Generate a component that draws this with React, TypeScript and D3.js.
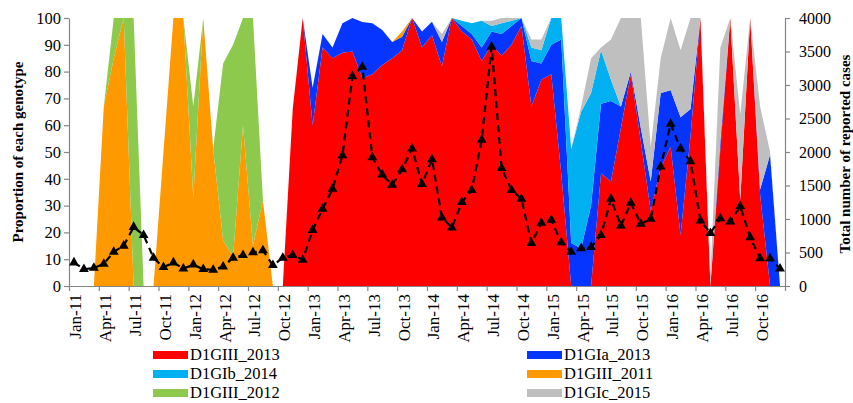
import React, { useEffect, useRef } from 'react';
import * as d3 from 'd3';

// month categories Jan-11 .. Dec-16
const months: string[] = d3.timeMonth
  .range(new Date(2011, 0, 1), new Date(2017, 0, 1))
  .map(d => d3.timeFormat('%b-%y')(d));

const xTickLabels = [
  'Jan-11', 'Apr-11', 'Jul-11', 'Oct-11', 'Jan-12', 'Apr-12', 'Jul-12', 'Oct-12',
  'Jan-13', 'Apr-13', 'Jul-13', 'Oct-13', 'Jan-14', 'Apr-14', 'Jul-14', 'Oct-14',
  'Jan-15', 'Apr-15', 'Jul-15', 'Oct-15', 'Jan-16', 'Apr-16', 'Jul-16', 'Oct-16',
];

// proportion of each genotype (%), one value per month
const d1giii2013 = [
  0, 0, 0, 0, 0, 0, 0, 0, 0, 0, 0, 0,
  0, 0, 0, 0, 0, 0, 0, 0, 0, 0, 66, 100,
  60, 89, 85, 87, 87.5, 77.5, 79, 82.5, 85, 88, 100, 89,
  93.6, 82, 100, 95, 92, 84, 90, 86, 90, 97, 67, 77,
  79, 42, 0, 0, 0, 42, 39, 59, 79, 54, 28, 44,
  52, 19, 56, 100, 0, 51, 100, 32, 100, 34, 0, 0,
];
const d1gia2013 = [
  0, 0, 0, 0, 0, 0, 0, 0, 0, 0, 0, 0,
  0, 0, 0, 0, 0, 0, 0, 0, 0, 0, 0, 0,
  14, 5, 4, 11, 12.5, 21, 19, 13, 6, 5, 0, 6,
  5, 9, 0, 2, 2, 5, 5, 8, 7, 3, 17, 6,
  11, 50, 16, 14, 30, 26, 30, 8, 1, 5, 11, 28,
  21, 44, 10, 0, 0, 3, 0, 0, 0, 2, 49, 0,
];
const d1gib2014 = [
  0, 0, 0, 0, 0, 0, 0, 0, 0, 0, 0, 0,
  0, 0, 0, 0, 0, 0, 0, 0, 0, 0, 0, 0,
  0, 0, 0, 0, 0, 0, 0, 0, 0, 0, 0, 0,
  0, 0, 0, 2, 4, 10, 2, 4, 2, 0, 5, 5,
  10, 8, 35, 51, 42, 20, 8, 0, 0, 0, 0, 0,
  0, 0, 0, 0, 0, 0, 0, 0, 0, 0, 0, 0,
];
const d1giii2011 = [
  0, 0, 0, 67, 85, 100, 0, 0, 0, 50, 100, 100,
  33, 100, 51, 17, 11, 60, 15, 32, 0, 0, 0, 0,
  0, 0, 0, 0, 0, 0, 0, 0, 0, 2, 0, 0,
  0, 0, 0, 0, 0, 0, 0, 0, 0, 0, 0, 0,
  0, 0, 0, 0, 0, 0, 0, 0, 0, 0, 0, 0,
  0, 0, 0, 0, 0, 0, 0, 0, 0, 0, 0, 0,
];
const d1giii2012 = [
  0, 0, 0, 0, 15, 0, 100, 0, 0, 0, 0, 0,
  34, 0, 0, 66, 79, 40, 85, 0, 0, 0, 0, 0,
  0, 0, 0, 0, 0, 0, 0, 0, 0, 0, 0, 0,
  0, 0, 0, 0, 0, 0, 0, 0, 0, 0, 0, 0,
  0, 0, 0, 0, 0, 0, 0, 0, 0, 0, 0, 0,
  0, 0, 0, 0, 0, 0, 0, 0, 0, 0, 0, 0,
];
const d1gic2015 = [
  0, 0, 0, 0, 0, 0, 0, 0, 0, 0, 0, 0,
  0, 0, 0, 0, 0, 0, 0, 0, 0, 0, 0, 0,
  0, 0, 0, 0, 0, 0, 0, 0, 0, 0, 0, 0,
  0, 3, 0, 0, 0, 0, 2, 2, 1, 0, 3, 4,
  0, 0, 0, 2, 13, 1, 15, 33, 20, 41, 13, 13,
  27, 25, 34, 0, 4, 35, 0, 32, 0, 31, 1, 0,
];

// total number of reported cases per month
const totalCases = [
  350, 250, 270, 330, 510, 600, 880, 760, 420, 280, 350, 260,
  320, 250, 240, 290, 420, 460, 500, 530, 310, 420, 460, 390,
  835, 1150, 1450, 1950, 3130, 3270, 1920, 1660, 1510, 1740, 2050, 1520,
  1890, 1020, 870, 1250, 1430, 2180, 3570, 1760, 1430, 1300, 640, 940,
  985, 650, 510, 560, 580, 760, 1300, 900, 1240, 925, 1000, 1780,
  2420, 2050, 1860, 975, 790, 1010, 960, 1190, 725, 410, 410, 260,
];

const seriesNames = ['D1GIII_2013', 'D1GIa_2013', 'D1GIb_2014', 'D1GIII_2011', 'D1GIII_2012', 'D1GIc_2015'];
const seriesValues = [d1giii2013, d1gia2013, d1gib2014, d1giii2011, d1giii2012, d1gic2015];
const seriesColors = ['#ff0000', '#0635ff', '#00b0f0', '#ff9900', '#8cc94c', '#bfbfbf'];
const legendLabels = ['D1GIII_2013', 'D1GIa_2013', 'D1GIb_2014', 'D1GIII_2011', 'D1GIII_2012', 'D1GIc_2015'];

const FONT = 'Liberation Serif, DejaVu Serif, serif';
const AXIS = '#868686';

const App: React.FC = () => {
  const svgRef = useRef<SVGSVGElement | null>(null);

  useEffect(() => {
    if (!svgRef.current) return;
    const svg = d3.select(svgRef.current);
    svg.selectAll('*').remove();

    const width = 853;
    const height = 403;
    const margin = { top: 18, right: 68, bottom: 117, left: 69 };
    const x0 = margin.left;
    const x1 = width - margin.right;
    const yTop = margin.top;
    const yBot = height - margin.bottom;

    const x = d3.scaleBand<string>().domain(months).range([x0, x1]).padding(0);
    const xc = (m: string) => (x(m) as number) + x.bandwidth() / 2;
    const xIdx = d3.scaleLinear().domain([0, months.length]).range([x0, x1]);

    const yLeft = d3.scaleLinear().domain([0, 100]).range([yBot, yTop]);
    const yRight = d3.scaleLinear().domain([0, 4000]).range([yBot, yTop]);

    // stacked table
    const table = months.map((m, i) => {
      const row: any = { month: m };
      seriesNames.forEach((k, s) => { row[k] = seriesValues[s][i]; });
      return row;
    });
    const stacked = d3.stack<any>().keys(seriesNames)(table);

    const area = d3.area<any>()
      .x(d => xc(d.data.month))
      .y0(d => yLeft(d[0]))
      .y1(d => yLeft(d[1]));

    svg.append('g')
      .selectAll('path')
      .data(stacked)
      .join('path')
      .attr('fill', (_, i) => seriesColors[i])
      .attr('d', area as any);

    // left axis
    const gl = svg.append('g')
      .attr('transform', `translate(${x0},0)`)
      .call(d3.axisLeft(yLeft).tickValues(d3.range(0, 101, 10)).tickSize(5).tickPadding(3).tickSizeOuter(0));
    gl.selectAll('text').attr('font-size', 16.5).attr('fill', '#000');

    // right axis
    const gr = svg.append('g')
      .attr('transform', `translate(${x1},0)`)
      .call(d3.axisRight(yRight).tickValues(d3.range(0, 4001, 500)).tickFormat(d3.format('d')).tickSize(5).tickPadding(9).tickSizeOuter(0));
    gr.selectAll('text').attr('font-size', 16).attr('fill', '#000');

    // bottom axis: ticks between categories every 3 months
    const gb = svg.append('g')
      .attr('transform', `translate(0,${yBot})`)
      .call(d3.axisBottom(xIdx).tickValues(d3.range(0, months.length + 1, 3)).tickSize(5).tickFormat(() => '').tickSizeOuter(0));

    [gl, gr, gb].forEach(g => {
      g.attr('font-family', FONT);
      g.select('.domain').attr('stroke', AXIS).attr('stroke-width', 1.2);
      g.selectAll('.tick line').attr('stroke', AXIS).attr('stroke-width', 1.2);
    });

    svg.append('g')
      .attr('font-family', FONT)
      .attr('font-size', 17)
      .selectAll('text')
      .data(xTickLabels)
      .join('text')
      .attr('transform', (_, i) => `translate(${xc(months[i * 3]) + 1.5},${yBot + 8}) rotate(-90)`)
      .attr('text-anchor', 'end')
      .attr('dy', '0.35em')
      .text(d => d);

    // axis titles
    svg.append('text')
      .attr('transform', `translate(18,${(yTop + yBot) / 2}) rotate(-90)`)
      .attr('text-anchor', 'middle')
      .attr('dy', '0.35em')
      .attr('font-family', FONT)
      .attr('font-weight', 'bold')
      .attr('font-size', 15)
      .text('Proportion  of each genotype');

    svg.append('text')
      .attr('transform', `translate(845,${(yTop + yBot) / 2 + 2}) rotate(-90)`)
      .attr('text-anchor', 'middle')
      .attr('dy', '0.35em')
      .attr('font-family', FONT)
      .attr('font-weight', 'bold')
      .attr('font-size', 15)
      .text('Total  number  of  reported  cases');

    // total cases line
    const line = d3.line<number>()
      .x((_, i) => xc(months[i]))
      .y(d => yRight(d));

    svg.append('path')
      .datum(totalCases)
      .attr('fill', 'none')
      .attr('stroke', '#000')
      .attr('stroke-width', 2.2)
      .attr('stroke-dasharray', '7,5')
      .attr('d', line);

    svg.append('g')
      .selectAll('path')
      .data(totalCases)
      .join('path')
      .attr('transform', (d, i) => `translate(${xc(months[i])},${yRight(d)})`)
      .attr('d', d3.symbol(d3.symbolTriangle, 42) as any)
      .attr('fill', '#000');

    // legend, two columns, three rows
    const lg = svg.append('g').attr('font-family', FONT).attr('font-size', 16.5);
    legendLabels.forEach((name, i) => {
      const col = i % 2;
      const row = Math.floor(i / 2);
      const lx = col === 0 ? 153 : 527;
      const ly = 355 + row * 19;
      lg.append('rect')
        .attr('x', lx)
        .attr('y', ly - 4)
        .attr('width', 35)
        .attr('height', 8)
        .attr('fill', seriesColors[i]);
      lg.append('text')
        .attr('x', lx + 37)
        .attr('y', ly)
        .attr('dy', '0.33em')
        .text(name);
    });
  }, []);

  return (
    <svg
      ref={svgRef}
      width={853}
      height={403}
      viewBox="0 0 853 403"
      style={{ position: 'absolute', left: 0, top: 0, background: '#fff' }}
    />
  );
};

export default App;
